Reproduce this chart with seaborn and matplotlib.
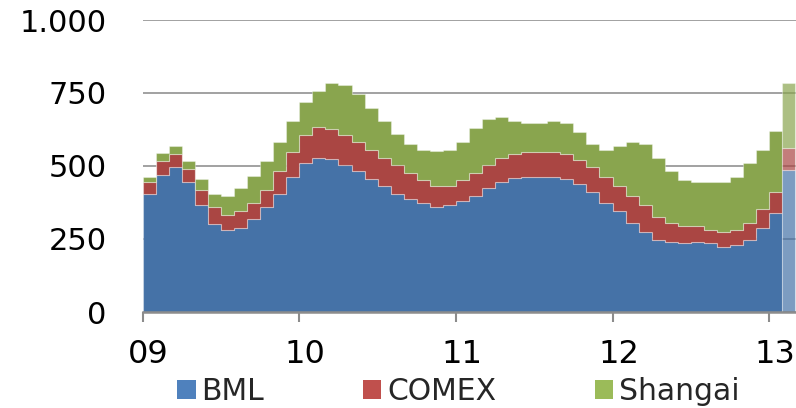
import numpy as np
import pandas as pd
import matplotlib
matplotlib.use("Agg")
import matplotlib.pyplot as plt
from matplotlib.patches import Patch
from matplotlib.transforms import ScaledTranslation
import seaborn as sns

# ---- data (monthly, Jan 2009 .. Feb 2013) ----
series = ["BML", "COMEX", "Shangai"]
bml = [405, 470, 498, 444, 367, 301, 281, 289, 320, 360, 405, 464,
       511, 529, 523, 504, 484, 457, 431, 405, 386, 373, 360, 367,
       379, 398, 425, 444, 458, 464, 464, 464, 457, 437, 412, 373,
       345, 306, 273, 247, 241, 235, 241, 235, 221, 228, 247, 287,
       340, 485]
comex = [39, 46, 43, 46, 51, 58, 51, 56, 53, 58, 79, 84,
         96, 106, 105, 103, 98, 97, 97, 98, 90, 78, 71, 64,
         72, 78, 78, 84, 82, 84, 84, 84, 83, 85, 84, 89,
         86, 91, 92, 79, 65, 59, 53, 45, 52, 52, 59, 65,
         71, 76]
shangai = [20, 27, 27, 26, 39, 46, 66, 80, 92, 98, 98, 106,
           112, 123, 157, 171, 165, 145, 126, 105, 99, 104, 119, 124,
           131, 153, 157, 139, 114, 99, 99, 106, 107, 93, 79, 93,
           138, 185, 210, 203, 177, 157, 150, 164, 171, 184, 203, 203,
           210, 224]
year_labels = ["09", "10", "11", "12", "13"]
ytick_vals = [0, 250, 500, 750, 1000]
ytick_labels = ["0", "250", "500", "750", "1.000"]

colors = {"BML": "#4572A7", "COMEX": "#AA4643", "Shangai": "#89A54E"}
legend_colors = {"BML": "#4F81BD", "COMEX": "#C0504D", "Shangai": "#9BBB59"}

n = len(bml)
rows = []
for name, vals in zip(series, [bml, comex, shangai]):
    for m, v in enumerate(vals):
        rows.append({"month": m, "x": m + 0.5, "value": v, "series": name})
df = pd.DataFrame(rows)
df_main = df[df["month"] < n - 1]
df_last = df[df["month"] == n - 1]

sns.set_theme(style="white")
plt.rcParams["font.family"] = ["DejaVu Sans"]

fig = plt.figure(figsize=(7.96, 4.08), dpi=100)
ax = fig.add_axes([142.7 / 796, 1 - 312 / 408, 1 - 142.7 / 796, 292 / 408])

ax.yaxis.grid(True, color="#9a9a9a", linewidth=1.3)
ax.set_axisbelow(True)

hue_order = ["Shangai", "COMEX", "BML"]  # last level is stacked at the bottom
common = dict(x="x", weights="value", hue="series", hue_order=hue_order,
              palette=colors, multiple="stack", element="step",
              edgecolor=(1, 1, 1, 0.35), linewidth=0.8, legend=False, ax=ax)
sns.histplot(data=df_main, bins=list(range(0, n)), alpha=1, **common)
sns.histplot(data=df_last, bins=[n - 1, n], alpha=0.7, **common)

ax.set_xlim(0, 50.06)
ax.set_ylim(0, 1000)
ax.set_xlabel("")
ax.set_ylabel("")
ax.set_xticks([0, 12, 24, 36, 48])
ax.set_xticklabels(year_labels)
ax.set_yticks(ytick_vals)
ax.set_yticklabels(ytick_labels)

for s in ["left", "top", "right"]:
    ax.spines[s].set_visible(False)
ax.spines["bottom"].set_color("#8c8c8c")
ax.spines["bottom"].set_linewidth(1.8)
ax.spines["bottom"].set_zorder(5)

ax.tick_params(axis="x", bottom=True, length=7.5, width=1.5, color="#8c8c8c",
               labelsize=23, pad=12, direction="out", labelcolor="black")
ax.tick_params(axis="y", left=False, length=0, labelsize=22, pad=26,
               labelcolor="black")
offset = ScaledTranslation(6 / 100, 0, fig.dpi_scale_trans)
for lbl in ax.get_xticklabels():
    lbl.set_transform(lbl.get_transform() + offset)

handles = [Patch(facecolor=legend_colors[s], edgecolor="none") for s in series]
fig.legend(handles, series, loc="upper left",
           bbox_to_anchor=(177 / 796, 1 - 377 / 408), ncol=3, frameon=False,
           fontsize=21.5, handlelength=0.62, handleheight=0.62, handletextpad=0.2,
           columnspacing=3.3, borderpad=0, borderaxespad=0)

fig.savefig("out.png", dpi=100)
